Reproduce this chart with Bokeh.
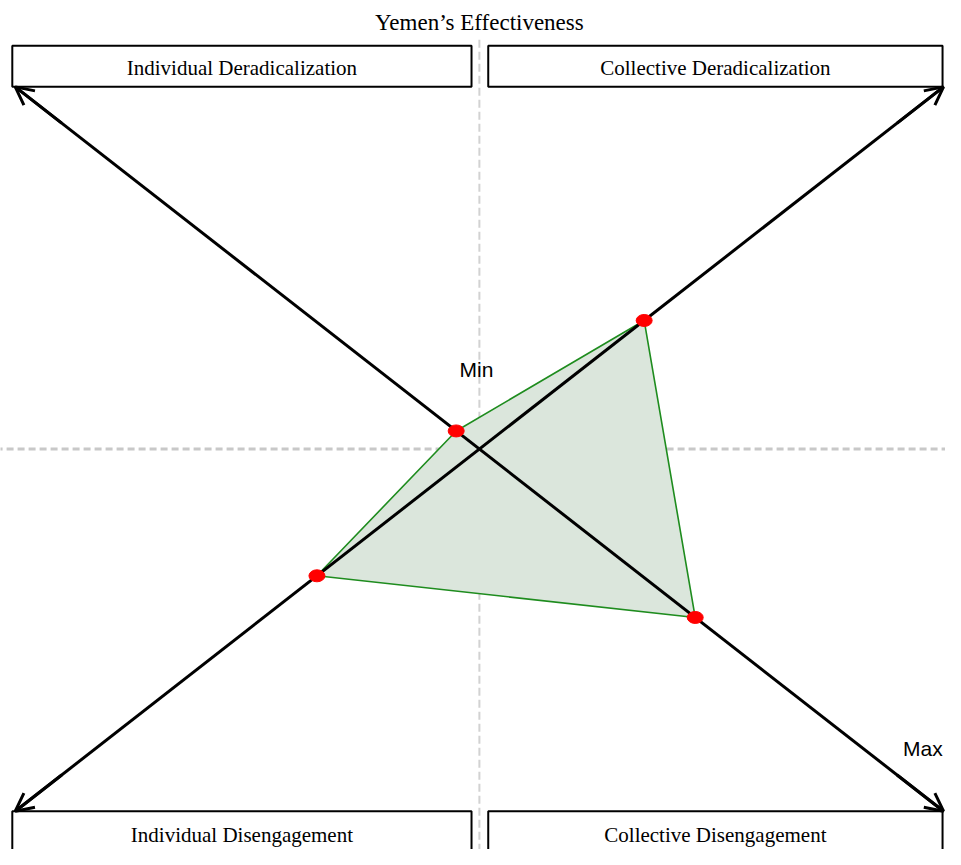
from bokeh.plotting import figure
from bokeh.models import Range1d, Arrow, OpenHead
from bokeh.core.properties import value
from bokeh.embed import file_html
from bokeh.resources import INLINE

# ---- data ----
title_text = "Yemen\u2019s Effectiveness"
categories = ["Individual Deradicalization", "Collective Deradicalization",
              "Collective Disengagement", "Individual Disengagement"]
scores = [0.5, 3.55, 4.65, 3.5]          # 0 = Min (centre), 10 = Max (arrow tip)
axis_max = 10
scale_labels = ["Min", "Max"]

# axis directions (x sign, y sign) for each category
dirs = [(-1, 1), (1, 1), (1, -1), (-1, -1)]

# ---- layout helpers (reference-frame pixels -> data units) ----
CX, CY = 487.0, 457.0      # centre in frame pixels
SX, SY = 47.2, 36.9        # frame pixels per data unit
def X(px):
    return (px - CX) / SX
def Y(py):
    return (CY - py) / SY

W, H = 945, 849
p = figure(width=W, height=H, output_backend="svg", toolbar_location=None,
           x_range=Range1d(X(0), X(961)), y_range=Range1d(Y(865), Y(0)),
           min_border=0, outline_line_color=None)
p.axis.visible = False
p.grid.visible = False
p.background_fill_color = "white"
p.border_fill_color = "white"

# guide lines
p.segment(x0=[0], y0=[Y(40)], x1=[0], y1=[Y(880)], line_color="#d2d2d2",
          line_width=2, line_dash="8 4")
p.segment(x0=[X(-5)], y0=[0], x1=[X(970)], y1=[0], line_color="#c8c8c8",
          line_width=3, line_dash="7 4")

# polygon of scores
xs = [s * dx for s, (dx, dy) in zip(scores, dirs)]
ys = [s * dy for s, (dx, dy) in zip(scores, dirs)]
p.patch(xs, ys, fill_color="#dbe6dc", fill_alpha=1.0, line_color="#1e8c1e",
        line_width=1.6)

# axes (diagonals)
p.segment(x0=[-axis_max, -axis_max], y0=[axis_max, -axis_max],
          x1=[axis_max, axis_max], y1=[-axis_max, axis_max],
          line_color="black", line_width=3)
for dx, dy in dirs:
    p.add_layout(Arrow(end=OpenHead(size=18, line_width=3, line_color="black"),
                       x_start=dx * axis_max * 0.9, y_start=dy * axis_max * 0.9,
                       x_end=dx * axis_max, y_end=dy * axis_max,
                       line_width=3, line_color="black"))

# score markers
p.ellipse(x=xs, y=ys, width=16, height=12, width_units="screen",
          height_units="screen", fill_color="#ff0000", line_color="#ff0000")

# category boxes
box_l = [X(12), X(496), X(496), X(12)]
box_r = [X(479), X(958), X(958), X(479)]
box_t = [Y(46), Y(46), Y(826), Y(826)]
box_b = [Y(88), Y(88), Y(900), Y(900)]
p.quad(left=box_l, right=box_r, top=box_t, bottom=box_b, fill_color="white",
       line_color="black", line_width=2)
tx = [(l + r) / 2 for l, r in zip(box_l, box_r)]
ty = [Y(69), Y(69), Y(850), Y(850)]
p.text(x=tx, y=ty, text=categories, text_align="center", text_baseline="middle",
       text_font=value("Liberation Serif"), text_font_size="21px",
       text_color="black")

# title
p.text(x=[X(487)], y=[Y(22)], text=[title_text], text_align="center",
       text_baseline="middle", text_font=value("Liberation Serif"),
       text_font_size="23px", text_color="black")

# Min / Max labels
p.text(x=[X(484), X(938)], y=[Y(376), Y(762)], text=scale_labels,
       text_align="center", text_baseline="middle",
       text_font=value("Liberation Sans"), text_font_size="21px",
       text_color="black")

open("out.html", "w").write(file_html(p, INLINE))
